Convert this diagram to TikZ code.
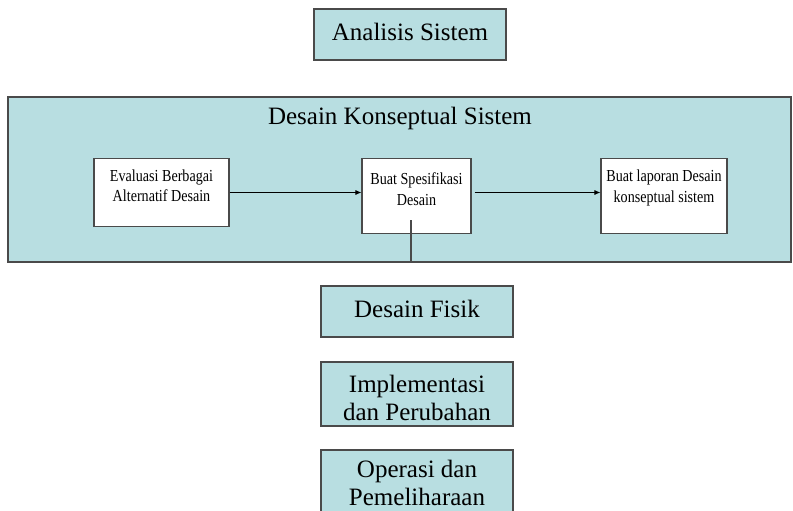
\documentclass[tikz,border=0pt]{standalone}
\usepackage{fontspec}
\setmainfont{Liberation Serif}
\newfontfamily\narrowserif[FakeStretch=0.84]{Liberation Serif}
\usetikzlibrary{arrows.meta}
\definecolor{panelfill}{HTML}{B8DEE1}
\definecolor{edgegray}{HTML}{4A4A4A}
\begin{document}
\begin{tikzpicture}[x=1pt,y=-1pt,
  stage/.style={draw=edgegray, line width=1.2pt, fill=panelfill},
  stagetext/.style={font=\fontsize{25}{27.5}\selectfont, align=center, inner sep=0pt},
  substep/.style={draw=edgegray, line width=1.2pt, fill=white},
  subtext/.style={font=\narrowserif\fontsize{16.8}{20.5}\selectfont, align=center, inner sep=0pt},
  flow/.style={draw=black, line width=0.7pt, -{Latex[length=6pt,width=5pt]}}]
\useasboundingbox (0,0) rectangle (793,511);
\clip (0,0) rectangle (793,511);

% top stage
\draw[stage] (314,9) rectangle (506,60);
\node[stagetext] (analisis) at (410,32) {Analisis Sistem};

% conceptual design panel
\draw[stage] (8,97) rectangle (791,262);
\node[stagetext] (konseptual) at (400,118) {Desain Konseptual Sistem};
\coordinate (panelbottom) at (411,262);

% sub-steps inside the panel
\node[substep, minimum width=135pt, minimum height=68pt, inner sep=0pt] (evaluasi) at (161.5,192.5) {};
\node[subtext] at (161.5,186) {Evaluasi Berbagai\\Alternatif Desain};

\node[substep, minimum width=109pt, minimum height=75pt, inner sep=0pt] (spesifikasi) at (416.5,196) {};
\node[subtext] at (416.5,189) {Buat Spesifikasi\\Desain};

\node[substep, minimum width=126pt, minimum height=75pt, inner sep=0pt] (laporan) at (664,196) {};
\node[subtext] at (664,188) {Buat laporan Desain\\konseptual sistem};

\draw[flow] (evaluasi.east |- 0,192.5) -- (spesifikasi.west |- 0,192.5);
\draw[flow] ([xshift=3pt]spesifikasi.east |- 0,192.5) -- (laporan.west |- 0,192.5);
\coordinate (spesdrop) at (411,220);
\draw[edgegray, line width=1.5pt] (spesdrop) -- (panelbottom);

% following stages
\draw[stage] (321,286) rectangle (513,337);
\node[stagetext] (fisik) at (417,309) {Desain Fisik};

\draw[stage] (321,362) rectangle (513,426);
\node[stagetext] (implementasi) at (417,398) {Implementasi\\dan Perubahan};

\draw[stage] (321,450) rectangle (513,530);
\node[stagetext] (operasi) at (417,483) {Operasi dan\\Pemeliharaan};
\end{tikzpicture}
\end{document}
